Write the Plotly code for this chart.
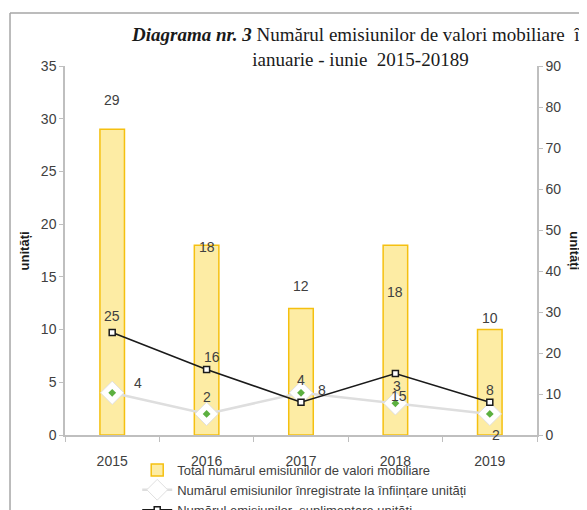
import plotly.graph_objects as go

# data
years = ["2015", "2016", "2017", "2018", "2019"]
total_emisiuni = [29, 18, 12, 18, 10]
emisiuni_infiintare = [4, 2, 4, 3, 2]
emisiuni_suplimentare = [25, 16, 8, 15, 8]

left_ticks = [0, 5, 10, 15, 20, 25, 30, 35]
right_ticks = [0, 10, 20, 30, 40, 50, 60, 70, 80, 90]

# label offsets in px (x, y) so labels sit like in the excel original
bar_label_shift = [(0, 29), (0, -2), (0, 22), (0, -47), (0, 12)]
supl_label_shift = [(0, 17), (5, 12), (21, 12), (4, -22), (0, 12)]
inf_label_shift = [(26, 10), (0, 17), (0, 13), (2, 17), (6, -21)]

FONT = "Liberation Sans Narrow, Arial Narrow, Liberation Sans, sans-serif"
TXT = "#404040"
AXIS = "#bfbfbf"

fig = go.Figure()

fig.add_trace(go.Bar(
    x=years, y=total_emisiuni,
    name="Total numărul emisiunilor de valori mobiliare",
    marker=dict(color="#fdeca4", line=dict(color="#f5c010", width=1.5)),
    width=0.26,
))

fig.add_trace(go.Scatter(
    x=years, y=emisiuni_infiintare,
    name="Numărul emisiunilor înregistrate la înființare unități",
    mode="lines+markers",
    line=dict(color="#dedede", width=2.5),
    marker=dict(symbol="diamond", size=18, color="white", line=dict(color="#e0e0e0", width=1)),
))
fig.add_trace(go.Scatter(
    x=years, y=emisiuni_infiintare, mode="markers", showlegend=False,
    marker=dict(symbol="diamond", size=6, color="#5cb040"),
    hoverinfo="skip",
))

fig.add_trace(go.Scatter(
    x=years, y=emisiuni_suplimentare, yaxis="y2",
    name="Numărul emisiunilor  suplimentare unități",
    mode="lines+markers",
    line=dict(color="#1a1a1a", width=1.6),
    marker=dict(symbol="square", size=6, color="white", line=dict(color="#1a1a1a", width=1.5)),
))

# annotations on a category axis are placed by category index
annotations = []
for i, (v, (dx, dy)) in enumerate(zip(total_emisiuni, bar_label_shift)):
    annotations.append(dict(x=i, y=v, text=str(v), showarrow=False, xshift=dx, yshift=dy,
                            font=dict(size=14, color=TXT, family=FONT)))
for i, (v, (dx, dy)) in enumerate(zip(emisiuni_suplimentare, supl_label_shift)):
    annotations.append(dict(x=i, y=v, yref="y2", text=str(v), showarrow=False, xshift=dx, yshift=dy,
                            font=dict(size=14, color=TXT, family=FONT)))
for i, (v, (dx, dy)) in enumerate(zip(emisiuni_infiintare, inf_label_shift)):
    annotations.append(dict(x=i, y=v, text=str(v), showarrow=False, xshift=dx, yshift=dy,
                            font=dict(size=14, color=TXT, family=FONT)))

annotations += [
    dict(xref="paper", yref="paper", x=0.625, y=1.0, xanchor="center", yanchor="bottom", yshift=-6,
         text="<b><i>Diagrama nr. 3</i></b> Numărul emisiunilor de valori mobiliare  în<br>ianuarie - iunie  2015-20189",
         showarrow=False, align="center",
         font=dict(size=19, color="#1a1a1a", family="Liberation Serif, Times New Roman, serif")),
    dict(xref="paper", yref="paper", x=-0.085, y=0.5, xanchor="center", yanchor="middle",
         text="<b>unități</b>", textangle=-90,
         showarrow=False, font=dict(size=13, color="#1a1a1a", family=FONT)),
    dict(xref="paper", yref="paper", x=1.079, y=0.5, xanchor="center", yanchor="middle",
         text="<b>unități</b>", textangle=90,
         showarrow=False, font=dict(size=13, color="#1a1a1a", family=FONT)),
]

# page body adds an 8px offset, margins compensate for it
fig.update_layout(
    width=587, height=510,
    margin=dict(l=57, r=58, t=58, b=83, autoexpand=False),
    paper_bgcolor="white", plot_bgcolor="white",
    font=dict(family=FONT, color=TXT, size=14),
    showlegend=True,
    legend=dict(x=0.153, y=-0.054, xanchor="left", yanchor="top", orientation="v",
                font=dict(size=13, color=TXT, family=FONT), tracegroupgap=0,
                bgcolor="rgba(0,0,0,0)", itemwidth=30),
    xaxis=dict(type="category", range=[-0.5, len(years) - 0.5], showline=True, linecolor=AXIS,
               linewidth=1.5, ticks="outside", tickson="boundaries", tickcolor=AXIS, ticklen=5,
               ticklabelstandoff=12, showgrid=False, tickangle=0, tickfont=dict(size=14, color=TXT)),
    yaxis=dict(range=[0, 35], tickvals=left_ticks, showline=True, linecolor=AXIS, linewidth=1.5,
               ticks="outside", tickcolor=AXIS, ticklen=4, showgrid=False, zeroline=False,
               tickfont=dict(size=14, color=TXT)),
    yaxis2=dict(range=[0, 90], tickvals=right_ticks, overlaying="y", side="right", showline=True,
                linecolor=AXIS, linewidth=1.5, ticks="outside", tickcolor=AXIS, ticklen=4,
                showgrid=False, zeroline=False, tickfont=dict(size=14, color=TXT)),
    annotations=annotations,
    shapes=[
        dict(type="line", xref="paper", yref="paper", x0=-0.1165, x1=-0.1165, y0=-0.3, y1=1.1436,
             line=dict(color="#a6a6a6", width=1.5)),
        dict(type="line", xref="paper", yref="paper", x0=-0.1165, x1=1.2, y0=1.1436, y1=1.1436,
             line=dict(color="#a6a6a6", width=1.5)),
    ],
)

fig.write_html("out.html")
